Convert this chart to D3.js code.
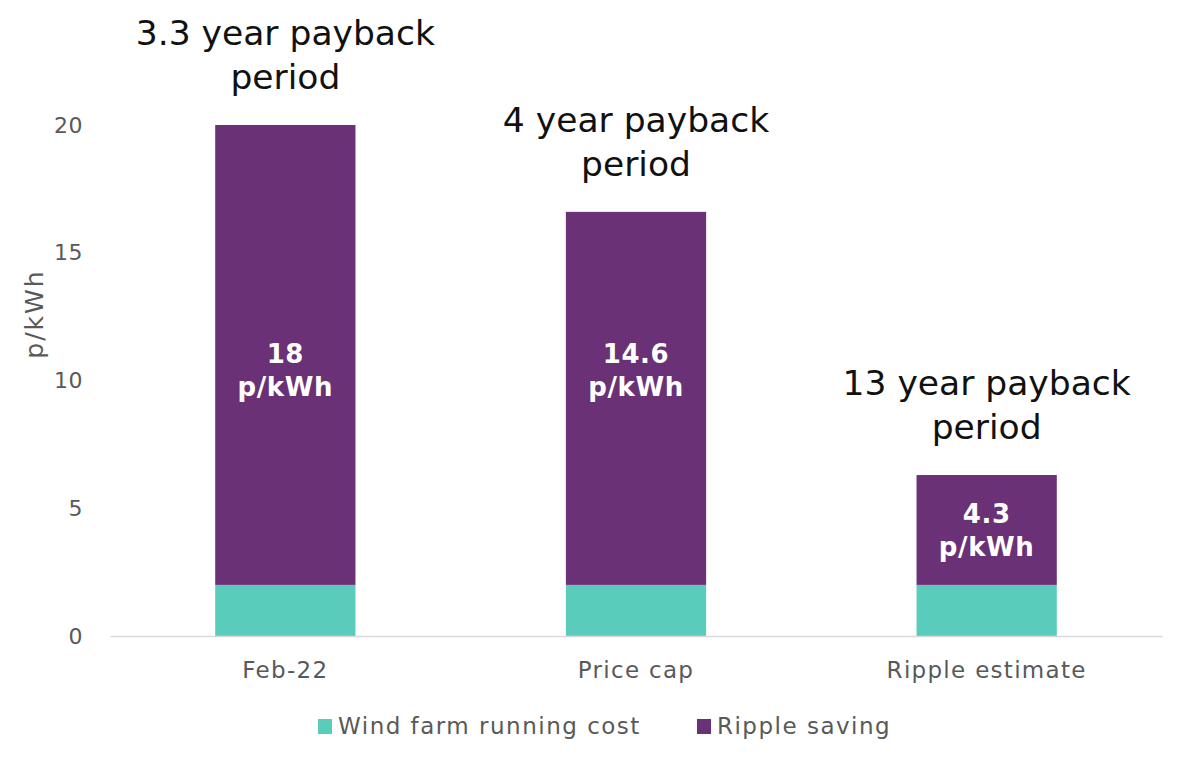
<!DOCTYPE html>
<html>
<head>
<meta charset="utf-8">
<script src="https://cdn.jsdelivr.net/npm/d3@7"></script>
<style>
  body { margin: 0; background: #fff; }
  svg { display: block; font-family: 'DejaVu Sans', sans-serif; }
</style>
</head>
<body>
<div id="chart"></div>
<script>
// chart data
const categories = ['Feb-22', 'Price cap', 'Ripple estimate'];
const runningCost = [2, 2, 2];
const rippleSaving = [18, 14.6, 4.3];
const savingLabels = ['18', '14.6', '4.3'];
const paybackLabels = [
  ['3.3 year payback', 'period'],
  ['4 year payback', 'period'],
  ['13 year payback', 'period']
];
const yTicks = [0, 5, 10, 15, 20];
const seriesNames = ['Wind farm running cost', 'Ripple saving'];

const COLORS = {
  cost: '#59CCBC',
  saving: '#6A3176',
  axis: '#D9D9D9',
  tick: '#595959',
  note: '#111111'
};

const width = 1200;
const height = 769;
const margin = { top: 125, right: 38, bottom: 133, left: 110 };

const svg = d3.select('#chart')
  .append('svg')
  .attr('width', width)
  .attr('height', height);

const x = d3.scaleBand()
  .domain(categories)
  .range([margin.left, width - margin.right])
  .paddingInner(0.6)
  .paddingOuter(0.3);

const y = d3.scaleLinear()
  .domain([0, 20])
  .range([height - margin.bottom, margin.top]);

// stacked data
const rows = categories.map((c, i) => ({ cat: c, cost: runningCost[i], saving: rippleSaving[i] }));
const stack = d3.stack().keys(['cost', 'saving'])(rows);

// y tick labels (no axis line)
svg.append('g')
  .selectAll('text')
  .data(yTicks)
  .join('text')
  .attr('x', margin.left - 27)
  .attr('y', d => y(d))
  .attr('dy', '0.35em')
  .attr('text-anchor', 'end')
  .attr('font-size', 22)
  .attr('letter-spacing', 0.5)
  .attr('fill', COLORS.tick)
  .text(d => d);

// y axis title
svg.append('text')
  .attr('transform', `translate(43,${y(12.6)}) rotate(-90)`)
  .attr('text-anchor', 'middle')
  .attr('font-size', 25)
  .attr('letter-spacing', 2)
  .attr('fill', COLORS.tick)
  .text('p/kWh');

// bars
svg.append('g')
  .selectAll('g')
  .data(stack)
  .join('g')
  .attr('fill', d => COLORS[d.key])
  .selectAll('rect')
  .data(d => d)
  .join('rect')
  .attr('x', d => x(d.data.cat))
  .attr('y', d => y(d[1]))
  .attr('width', x.bandwidth())
  .attr('height', d => y(d[0]) - y(d[1]));

// x axis line + category labels
const xAxis = d3.axisBottom(x).tickSize(0).tickPadding(0);
const gx = svg.append('g')
  .attr('transform', `translate(0,${y(0)})`)
  .call(xAxis);
gx.select('.domain').attr('stroke', COLORS.axis).attr('stroke-width', 1.5);
gx.selectAll('text')
  .attr('y', 42)
  .attr('dy', 0)
  .attr('font-family', "'DejaVu Sans', sans-serif")
  .attr('font-size', 23)
  .attr('letter-spacing', 1.3)
  .attr('fill', COLORS.tick);

// value labels inside the saving segment
const savingLayer = stack[1];
savingLayer.forEach((d, i) => {
  const top = y(d[1]);
  const bottom = y(d[0]);
  // labels sit near the 10.4 level when the segment reaches it, else at the middle
  let cy = (top + bottom) / 2;
  if (d[1] > 12) cy = y(10.4);
  const cx = x(d.data.cat) + x.bandwidth() / 2;
  const t = svg.append('text')
    .attr('y', cy)
    .attr('text-anchor', 'middle')
    .attr('font-size', 26)
    .attr('font-weight', 'bold')
    .attr('letter-spacing', 0.6)
    .attr('fill', '#fff');
  t.append('tspan').attr('x', cx).attr('dy', -7).text(savingLabels[i]);
  t.append('tspan').attr('x', cx).attr('dy', 33).text('p/kWh');
});

// payback annotations above each bar
savingLayer.forEach((d, i) => {
  const cx = x(d.data.cat) + x.bandwidth() / 2;
  const base = y(d[1]) - 36;
  const t = svg.append('text')
    .attr('text-anchor', 'middle')
    .attr('font-size', 34.5)
    .attr('fill', COLORS.note);
  t.append('tspan').attr('x', cx).attr('y', base - 44).text(paybackLabels[i][0]);
  t.append('tspan').attr('x', cx).attr('y', base).text(paybackLabels[i][1]);
});

// legend
const legend = svg.append('g').attr('transform', 'translate(318,726)');
const legendX = [0, 379];
seriesNames.forEach((name, i) => {
  const g = legend.append('g').attr('transform', `translate(${legendX[i]},0)`);
  g.append('rect')
    .attr('x', 0)
    .attr('y', -7)
    .attr('width', 14)
    .attr('height', 15)
    .attr('fill', i === 0 ? COLORS.cost : COLORS.saving);
  g.append('text')
    .attr('x', 20)
    .attr('y', 0)
    .attr('dy', '0.35em')
    .attr('font-size', 23)
    .attr('letter-spacing', 1.5)
    .attr('fill', COLORS.tick)
    .text(name);
});
</script>
</body>
</html>
